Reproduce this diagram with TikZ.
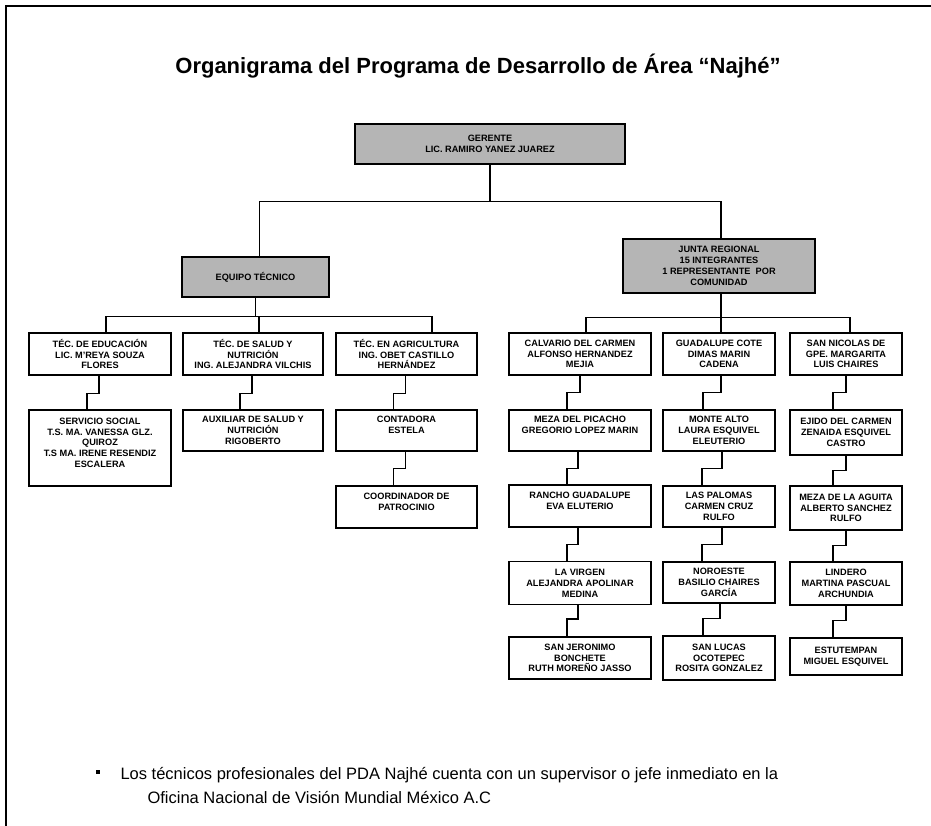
\documentclass[tikz,border=0pt]{standalone}
\usepackage{fontspec}
\setmainfont{Liberation Sans}
\begin{document}
\begin{tikzpicture}[x=1pt,y=-1pt,
  box/.style={draw, line width=1.2pt, fill=white, align=center, inner sep=1pt,
    font=\fontsize{9.2}{10.8}\selectfont\bfseries},
  gbox/.style={box, fill=gray!58},
  ln/.style={line width=1.3pt}]
\useasboundingbox (0,0) rectangle (931,826);
\draw[line width=2.6pt] (6,826) -- (6,6) -- (931,6);
\node[font=\fontsize{22}{26}\selectfont\bfseries] (title) at (478,66)
  {Organigrama del Programa de Desarrollo de Área “Najhé”};
% level 0/1
\node[gbox, minimum width=270, minimum height=40] (G) at (490,144) {GERENTE\\LIC. RAMIRO YANEZ JUAREZ};
\node[gbox, minimum width=147, minimum height=40] (ET) at (255.5,277) {EQUIPO TÉCNICO};
\node[gbox, minimum width=192, minimum height=54] (JR) at (719,266) {JUNTA REGIONAL\\15 INTEGRANTES\\1 REPRESENTANTE\ \ POR\\COMUNIDAD};
% left row 1
\node[box, minimum width=142, minimum height=42] (L1) at (100,354) {TÉC. DE EDUCACIÓN\\LIC. M'REYA SOUZA\\FLORES};
\node[box, minimum width=140, minimum height=42] (L2) at (253,354) {TÉC. DE SALUD Y\\NUTRICIÓN\\ING. ALEJANDRA VILCHIS};
\node[box, minimum width=141, minimum height=42] (L3) at (406.5,354) {TÉC. EN AGRICULTURA\\ING. OBET CASTILLO\\HERNÁNDEZ};
\node[box, minimum width=142, minimum height=76] (L1b) at (100,448) {SERVICIO SOCIAL\\T.S. MA. VANESSA GLZ.\\QUIROZ\\T.S MA. IRENE RESENDIZ\\ESCALERA\\\mbox{}};
\node[box, minimum width=140, minimum height=41] (L2b) at (253,430.5) {AUXILIAR DE SALUD Y\\NUTRICIÓN\\RIGOBERTO};
\node[box, minimum width=141, minimum height=41] (L3b) at (406.5,430.5) {CONTADORA\\ESTELA\\\mbox{}};
\node[box, minimum width=141, minimum height=42] (L3c) at (406.5,507) {COORDINADOR DE\\PATROCINIO\\\mbox{}};
% right columns
\node[box, minimum width=142, minimum height=42] (R1) at (580,354) {CALVARIO DEL CARMEN\\ALFONSO HERNANDEZ\\MEJIA};
\node[box, minimum width=142, minimum height=41] (R1b) at (580,430.5) {MEZA DEL PICACHO\\GREGORIO LOPEZ MARIN\\\mbox{}};
\node[box, minimum width=142, minimum height=42] (R1c) at (580,506) {RANCHO GUADALUPE\\EVA ELUTERIO\\\mbox{}};
\node[box, minimum width=142, minimum height=43] (R1d) at (580,583) {LA VIRGEN\\ALEJANDRA APOLINAR\\MEDINA};
\node[box, minimum width=142, minimum height=42] (R1e) at (580,658) {SAN JERONIMO\\BONCHETE\\RUTH MOREÑO JASSO};
\node[box, minimum width=112, minimum height=42] (R2) at (719,354) {GUADALUPE COTE\\DIMAS MARIN\\CADENA};
\node[box, minimum width=112, minimum height=41] (R2b) at (719,430.5) {MONTE ALTO\\LAURA ESQUIVEL\\ELEUTERIO};
\node[box, minimum width=112, minimum height=41] (R2c) at (719,506.5) {LAS PALOMAS\\CARMEN CRUZ\\RULFO};
\node[box, minimum width=112, minimum height=41] (R2d) at (719,582.5) {NOROESTE\\BASILIO CHAIRES\\GARCÍA};
\node[box, minimum width=112, minimum height=44] (R2e) at (719,658) {SAN LUCAS\\OCOTEPEC\\ROSITA GONZALEZ};
\node[box, minimum width=112, minimum height=42] (R3) at (846,354) {SAN NICOLAS DE\\GPE. MARGARITA\\LUIS CHAIRES};
\node[box, minimum width=112, minimum height=45] (R3b) at (846,432.5) {EJIDO DEL CARMEN\\ZENAIDA ESQUIVEL\\CASTRO};
\node[box, minimum width=112, minimum height=44] (R3c) at (846,508) {MEZA DE LA AGUITA\\ALBERTO SANCHEZ\\RULFO};
\node[box, minimum width=112, minimum height=43] (R3d) at (846,583.5) {LINDERO\\MARTINA PASCUAL\\ARCHUNDIA};
\node[box, minimum width=112, minimum height=37] (R3e) at (846,656.5) {ESTUTEMPAN\\MIGUEL ESQUIVEL};
% connectors top
\draw[ln] (G.south) -- ++(0,37) -| ([xshift=4]ET.north);
\draw[ln] (G.south) -- ++(0,37) -| ([xshift=2]JR.north);
\draw[ln] (ET.south) -- ++(0,19) -| ([xshift=6]L1.north);
\draw[ln] (ET.south) -- ++(0,19) -| ([xshift=6]L2.north);
\draw[ln] (ET.south) -- ++(0,19) -| ([xshift=25.5]L3.north);
\draw[ln] ([xshift=2]JR.south) -- ++(0,24) -| ([xshift=6]R1.north);
\draw[ln] ([xshift=2]JR.south) -- ++(0,24) -| ([xshift=2]R2.north);
\draw[ln] ([xshift=2]JR.south) -- ++(0,24) -| ([xshift=4]R3.north);
% elbows
\draw[ln] ([xshift=-1]L1.south) -- ++(0,18) -| ([xshift=-13]L1b.north);
\draw[ln] ([xshift=-1]L2.south) -- ++(0,18) -| ([xshift=-13]L2b.north);
\draw[ln] ([xshift=-1]L3.south) -- ++(0,18) -| ([xshift=-13]L3b.north);
\draw[ln] ([xshift=-1]L3b.south) -- ++(0,17) -| ([xshift=-13]L3c.north);
\draw[ln] (R1.south) -- ++(0,17) -| ([xshift=-13]R1b.north);
\draw[ln] ([xshift=-2]R1b.south) -- ++(0,17) -| ([xshift=-13]R1c.north);
\draw[ln] ([xshift=-2]R1c.south) -- ++(0,17) -| ([xshift=-13]R1d.north);
\draw[ln] ([xshift=-2]R1d.south) -- ++(0,14) -| ([xshift=-13]R1e.north);
\draw[ln] ([xshift=2]R2.south) -- ++(0,17) -| ([xshift=-16]R2b.north);
\draw[ln] ([xshift=3]R2b.south) -- ++(0,17) -| ([xshift=-17]R2c.north);
\draw[ln] ([xshift=3]R2c.south) -- ++(0,17) -| ([xshift=-17]R2d.north);
\draw[ln] ([xshift=1]R2d.south) -- ++(0,15) -| ([xshift=-16]R2e.north);
\draw[ln] (R3.south) -- ++(0,17) -| ([xshift=-13]R3b.north);
\draw[ln] (R3b.south) -- ++(0,15) -| ([xshift=-13]R3c.north);
\draw[ln] (R3c.south) -- ++(0,15) -| ([xshift=-13]R3d.north);
\draw[ln] (R3d.south) -- ++(0,15) -| ([xshift=-13]R3e.north);
% bullet
\node[fill=black, minimum size=4.5, inner sep=0] (bul) at (98,772) {};
\node[anchor=west, align=left, font=\fontsize{16.5}{24}\selectfont] (note) at (117,785)
  {Los técnicos profesionales del PDA Najhé cuenta con un supervisor o jefe inmediato en la\\
   \hspace*{27pt}Oficina Nacional de Visión Mundial México A.C};
\end{tikzpicture}
\end{document}
